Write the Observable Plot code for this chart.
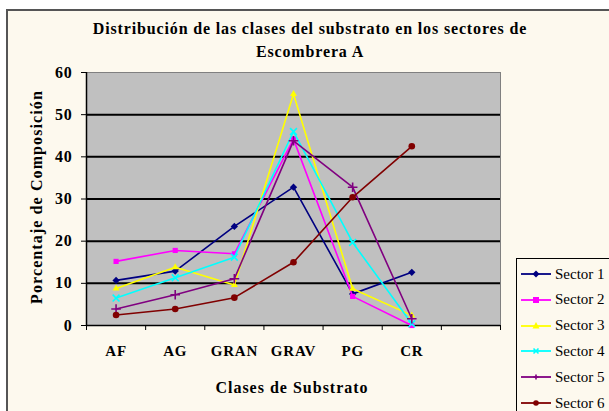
<!DOCTYPE html>
<html><head><meta charset="utf-8">
<script src="https://cdn.jsdelivr.net/npm/d3@7"></script>
<script src="https://cdn.jsdelivr.net/npm/@observablehq/plot@0.6"></script>
<style>
body{margin:0;background:#fff;}
#wrap{position:relative;width:609px;height:411px;overflow:hidden;background:#fff;font-family:"Times New Roman","Liberation Serif",serif;}
#border{position:absolute;left:6px;top:9px;width:640px;height:440px;border:2px solid #555;background:#fdf9ee;}
#chart{position:absolute;left:0;top:0;}
.title{position:absolute;left:0;width:620px;text-align:center;font-weight:bold;font-size:16px;color:#000;letter-spacing:0.85px;font-family:"Times New Roman","Liberation Serif",serif;}
#ylab{position:absolute;left:37px;top:197px;transform:translate(-50%,-50%) rotate(-90deg);white-space:nowrap;font-weight:bold;font-size:16px;letter-spacing:1.1px;font-family:"Times New Roman","Liberation Serif",serif;}
#xlab{position:absolute;left:292px;top:388px;transform:translate(-50%,-50%);white-space:nowrap;font-weight:bold;font-size:16px;letter-spacing:1px;font-family:"Times New Roman","Liberation Serif",serif;}
#legend{position:absolute;left:516px;top:258px;width:120px;height:170px;border:1px solid #000;background:#fdf9ee;}
.row{position:absolute;left:0;height:20px;display:flex;align-items:center;font-size:15px;font-family:"Times New Roman","Liberation Serif",serif;}
.row svg{margin-left:3px;margin-right:3px;}
</style>
</head><body>
<div id="wrap">
  <div id="border"></div>
  <div id="chart"></div>
  <div class="title" style="top:20px">Distribución de las clases del substrato en los sectores de</div>
  <div class="title" style="top:43px">Escombrera A</div>
  <div id="ylab">Porcentaje de Composición</div>
  <div id="xlab">Clases de Substrato</div>
  <div id="legend"></div>
</div>
<script>
const categories = ["AF","AG","GRAN","GRAV","PG","CR"];
const seriesNames = ["Sector 1","Sector 2","Sector 3","Sector 4","Sector 5","Sector 6"];
const seriesColors = ["#000080","#ff00ff","#ffff00","#00ffff","#800080","#800000"];
const seriesSymbols = ["diamond2","square2","triangle2","times","plus","circle"];
const sector1 = [10.7, 12.9, 23.5, 32.8, 7.5, 12.6];
const sector2 = [15.2, 17.8, 17.0, 44.2, 6.9, 0.0];
const sector3 = [8.8, 13.8, 9.6, 54.9, 8.7, 2.4];
const sector4 = [6.5, 11.3, 16.2, 46.0, 19.7, 0.4];
const sector5 = [3.9, 7.3, 11.1, 43.8, 32.8, 1.6];
const sector6 = [2.5, 3.9, 6.6, 15.0, 30.4, 42.5];
const yTicks = [0,10,20,30,40,50,60];
const gridValues = [10,20,30,40,50];

const allSeries = [sector1,sector2,sector3,sector4,sector5,sector6];
const slots = categories.length + 1; // one empty slot at the right
const rows = [];
allSeries.forEach((vals, s) => vals.forEach((v, i) => rows.push({series: seriesNames[s], si: s, idx: i + 0.5, cat: categories[i], value: v})));

const marks = [
  Plot.frame({fill: "#c0c0c0", stroke: "#808080"}),
  Plot.ruleY(gridValues, {stroke: "#000", strokeWidth: 2}),
  Plot.ruleX([0], {stroke: "#000", strokeWidth: 1.5}),
  Plot.ruleY([0], {stroke: "#000", strokeWidth: 1.5}),
  Plot.axisY({ticks: yTicks, tickSize: 5, tickPadding: 9, fontSize: 16, fontWeight: "bold", fill: "#000", label: null}),
  Plot.axisX({ticks: d3.range(0, slots + 1), tickSize: 5, tickFormat: () => "", label: null}),
  Plot.axisX({ticks: categories.map((c, i) => i + 0.5), tickSize: 0, tickPadding: 20, tickFormat: v => categories[Math.round(v - 0.5)], fontSize: 15, fontWeight: "bold", fill: "#000", label: null})
];
seriesNames.forEach((name, s) => {
  const data = rows.filter(r => r.si === s);
  marks.push(Plot.line(data, {x: "idx", y: "value", stroke: seriesColors[s], strokeWidth: 1.6}));
  const isStroke = seriesSymbols[s] === "times" || seriesSymbols[s] === "plus";
  marks.push(Plot.dot(data, {x: "idx", y: "value", symbol: seriesSymbols[s], r: isStroke ? 3.2 : 3.3,
    fill: isStroke ? "none" : seriesColors[s], stroke: isStroke ? seriesColors[s] : "none", strokeWidth: 1.6}));
});

const chart = Plot.plot({
  width: 609, height: 411,
  marginLeft: 86, marginRight: 109, marginTop: 72, marginBottom: 86,
  style: {background: "transparent", fontFamily: "'Times New Roman', 'Liberation Serif', serif"},
  x: {type: "linear", domain: [0, slots]},
  y: {domain: [0, 60]},
  marks
});
d3.select(chart).selectAll("text").attr("letter-spacing", "0.8px");
document.getElementById("chart").appendChild(chart);

// Legend
const leg = document.getElementById("legend");
const symPaths = {
  diamond2: '<path d="M16,1.5L19.5,5L16,8.5L12.5,5Z" fill="C"/>',
  square2: '<rect x="13" y="2" width="6" height="6" fill="C"/>',
  triangle2: '<path d="M16,1L19.5,7.5L12.5,7.5Z" fill="C"/>',
  times: '<path d="M13.5,2.5L18.5,7.5M18.5,2.5L13.5,7.5" stroke="C" stroke-width="1.6"/>',
  plus: '<path d="M16,2.5L16,7.5M13.5,5L18.5,5" stroke="C" stroke-width="1.6"/>',
  circle: '<circle cx="16" cy="5" r="2.8" fill="C"/>'
};
seriesNames.forEach((name, s) => {
  const row = document.createElement("div");
  row.className = "row";
  row.style.top = (5 + s * 25.8) + "px";
  const c = seriesColors[s];
  row.innerHTML = `<svg width="32" height="10"><line x1="1" y1="5" x2="31" y2="5" stroke="${c}" stroke-width="1.8"/>${symPaths[seriesSymbols[s]].replace(/C/g, c)}</svg><span>${name}</span>`;
  leg.appendChild(row);
});
</script>
</body></html>
